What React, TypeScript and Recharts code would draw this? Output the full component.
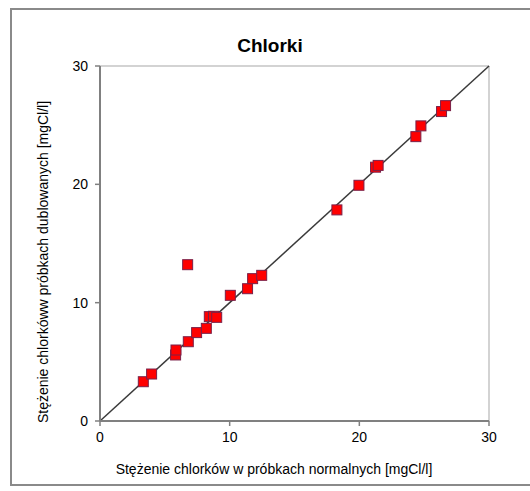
import React from 'react';
import { ScatterChart, Scatter, XAxis, YAxis, ReferenceLine } from 'recharts';

const normalValues = [3.34, 3.98, 5.83, 5.86, 6.81, 7.45, 8.2, 8.43, 8.75, 9.0, 10.05, 11.38, 11.77, 12.47, 6.76, 18.27, 19.97, 21.25, 21.45, 24.36, 24.75, 26.34, 26.65];
const duplicateValues = [3.32, 3.97, 5.58, 6.0, 6.7, 7.47, 7.83, 8.82, 8.85, 8.76, 10.62, 11.18, 12.03, 12.31, 13.21, 17.84, 19.92, 21.45, 21.6, 24.03, 24.94, 26.15, 26.65];
const axisTicks = [0, 10, 20, 30];

const title = 'Chlorki';
const xTitle = 'Stężenie chlorków w próbkach normalnych [mgCl/l]';
const yTitle = 'Stężenie chlorkóww próbkach dublowanych [mgCl/l]';

const data = normalValues.map((x, i) => ({ x, y: duplicateValues[i] }));

const font = '"Liberation Sans", Arial, sans-serif';

const SquareMarker = (props: any) => {
  const { cx, cy } = props;
  if (cx == null || cy == null) return null;
  return <rect x={cx - 5} y={cy - 5} width={10} height={10} fill="#ff0000" stroke="#7a2048" strokeWidth={1} />;
};

export default function App() {
  return (
    <div style={{ position: 'absolute', left: 0, top: 0, width: 530, height: 491, background: '#fff', overflow: 'hidden', fontFamily: font }}>
      <div style={{ position: 'absolute', left: 10, top: 8, width: 540, height: 478, border: '2px solid #8a8a8a', boxSizing: 'border-box' }} />
      <ScatterChart width={530} height={491} margin={{ top: 66, right: 41, bottom: 0, left: 0 }} style={{ position: 'absolute', left: 0, top: 0 }}>
        <text x={270} y={52} textAnchor="middle" fontFamily={font} fontSize={19} fontWeight="bold" fill="#000">{title}</text>
        <text x={274} y={474} textAnchor="middle" fontFamily={font} fontSize={14} fill="#000">{xTitle}</text>
        <text x={48} y={262} textAnchor="middle" fontFamily={font} fontSize={14} fill="#000" transform="rotate(-90 48 262)">{yTitle}</text>
        <XAxis
          type="number"
          dataKey="x"
          domain={[0, 30]}
          ticks={axisTicks}
          interval={0}
          height={70}
          axisLine={{ stroke: '#808080', strokeWidth: 2 }}
          tickLine={{ stroke: '#808080', strokeWidth: 1.5 }}
          tickSize={5}
          tickMargin={6}
          tick={{ fill: '#000', fontSize: 14, fontFamily: font }}
        />
        <YAxis
          type="number"
          dataKey="y"
          domain={[0, 30]}
          ticks={axisTicks}
          interval={0}
          width={100}
          axisLine={{ stroke: '#808080', strokeWidth: 2 }}
          tickLine={{ stroke: '#808080', strokeWidth: 1.5 }}
          tickSize={5}
          tickMargin={7}
          tick={{ fill: '#000', fontSize: 14, fontFamily: font }}
        />
        <ReferenceLine y={30} stroke="#c4c4c4" strokeWidth={1.5} />
        <ReferenceLine x={30} stroke="#c4c4c4" strokeWidth={1.5} />
        <ReferenceLine segment={[{ x: 0, y: 0 }, { x: 30, y: 30 }]} stroke="#3a3a3a" strokeWidth={1.5} />
        <Scatter data={data} shape={SquareMarker} isAnimationActive={false} />
      </ScatterChart>
    </div>
  );
}
